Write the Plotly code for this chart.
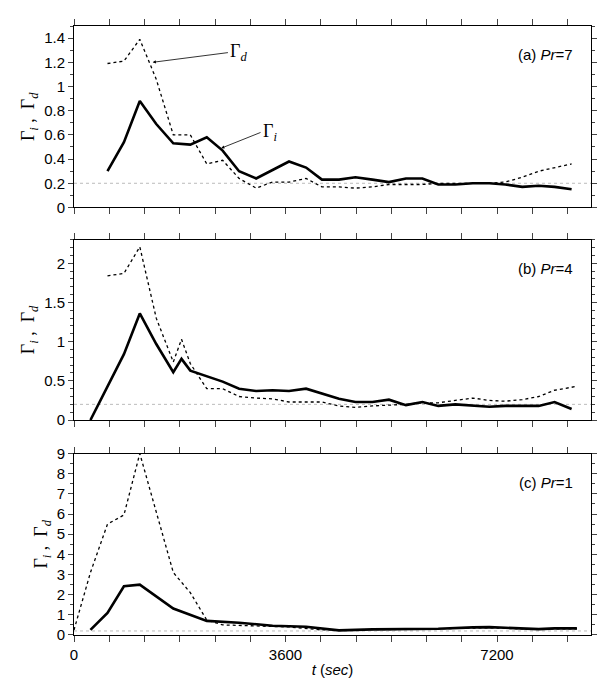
import plotly.graph_objects as go
from plotly.subplots import make_subplots

t_a = [570, 850, 1120, 1400, 1690, 1980, 2260, 2530, 2810, 3100, 3380, 3660, 3950, 4220,
       4510, 4790, 5080, 5360, 5650, 5930, 6200, 6490, 6790, 7070, 7340, 7630, 7910, 8180, 8470]
gi_a = [0.30, 0.54, 0.88, 0.69, 0.53, 0.52, 0.58, 0.47, 0.30, 0.24, 0.31, 0.38, 0.33, 0.23,
        0.23, 0.25, 0.23, 0.21, 0.24, 0.24, 0.19, 0.19, 0.20, 0.20, 0.19, 0.17, 0.18, 0.17, 0.15]
gd_a = [1.19, 1.21, 1.39, 1.06, 0.60, 0.60, 0.36, 0.39, 0.24, 0.16, 0.21, 0.21, 0.24, 0.17,
        0.17, 0.16, 0.17, 0.19, 0.19, 0.19, 0.20, 0.20, 0.20, 0.20, 0.21, 0.25, 0.30, 0.33, 0.36]

t_bi = [280, 570, 850, 1120, 1400, 1690, 1830, 1980, 2260, 2530, 2810, 3100, 3380, 3660, 3950,
        4220, 4510, 4790, 5080, 5360, 5650, 5930, 6200, 6490, 6790, 7070, 7340, 7630, 7910, 8180, 8470]
gi_b = [0.0, 0.43, 0.84, 1.36, 0.97, 0.61, 0.78, 0.63, 0.56, 0.49, 0.40, 0.37, 0.38, 0.37, 0.40,
        0.34, 0.27, 0.23, 0.23, 0.26, 0.19, 0.23, 0.18, 0.20, 0.18, 0.17, 0.18, 0.18, 0.18, 0.23, 0.14]
t_bd = [570, 850, 1120, 1400, 1690, 1830, 1980, 2260, 2530, 2810, 3100, 3380, 3660, 3950,
        4220, 4510, 4790, 5080, 5360, 5650, 5930, 6200, 6490, 6790, 7070, 7340, 7630, 7910, 8180, 8560]
gd_b = [1.84, 1.87, 2.21, 1.30, 0.74, 1.03, 0.72, 0.40, 0.40, 0.30, 0.28, 0.27, 0.23, 0.23,
        0.23, 0.18, 0.16, 0.18, 0.19, 0.20, 0.22, 0.22, 0.25, 0.28, 0.25, 0.24, 0.26, 0.30, 0.38, 0.43]

t_ci = [280, 570, 850, 1120, 1690, 2260, 2810, 3380, 3950, 4510, 5080, 5650, 6200, 6790,
        7070, 7340, 7630, 7910, 8180, 8560]
gi_c = [0.25, 1.1, 2.42, 2.5, 1.31, 0.70, 0.61, 0.46, 0.41, 0.23, 0.28, 0.28, 0.31, 0.38,
        0.39, 0.36, 0.31, 0.29, 0.33, 0.33]
t_cd = [0, 280, 570, 850, 1120, 1400, 1690, 1980, 2260, 2530, 3100, 3660, 4220, 4790, 5360,
        5930, 6490, 7070, 7630, 8180, 8560]
gd_c = [0.25, 3.1, 5.5, 5.95, 9.0, 6.05, 3.1, 2.1, 0.74, 0.50, 0.45, 0.40, 0.25, 0.25, 0.27,
        0.29, 0.33, 0.36, 0.30, 0.31, 0.31]

ref_level = 0.2
x_max = 8800

panels = [
    (t_a, gi_a, t_a, gd_a, "(a) <i>Pr</i>=7", [0, 1.5], 0.2, 0.1),
    (t_bi, gi_b, t_bd, gd_b, "(b) <i>Pr</i>=4", [0, 2.3], 0.5, 0.1),
    (t_ci, gi_c, t_cd, gd_c, "(c) <i>Pr</i>=1", [0, 9], 1, 0.5),
]

fig = make_subplots(rows=3, cols=1)
doms = [[0.702, 1.0], [0.353, 0.649], [0.0, 0.298]]
font = dict(family="Liberation Sans, Arial", size=15, color="black")
gfont = dict(family="Liberation Serif", size=18, color="black")

for k, (ti, gi, td, gd, lab, yr, dt, mdt) in enumerate(panels):
    r = k + 1
    fig.add_trace(go.Scatter(x=[0, x_max], y=[ref_level, ref_level], mode="lines",
                             line=dict(color="#bbbbbb", width=1, dash="dot")), row=r, col=1)
    fig.add_trace(go.Scatter(x=td, y=gd, mode="lines",
                             line=dict(color="black", width=1.3, dash="dot")), row=r, col=1)
    fig.add_trace(go.Scatter(x=ti, y=gi, mode="lines",
                             line=dict(color="black", width=2.6)), row=r, col=1)
    ax = "" if r == 1 else str(r)
    fig.update_yaxes(range=yr, dtick=dt, ticks="outside", ticklen=5, mirror="allticks",
                     showline=True, linecolor="black", showgrid=False, zeroline=False,
                     minor=dict(dtick=mdt, ticks="outside", ticklen=3),
                     domain=doms[k], tickfont=font,
                     title=dict(text="Γ<sub><i>i</i></sub> ,  Γ<sub><i>d</i></sub>",
                                font=gfont, standoff=4),
                     row=r, col=1)
    tv = list(range(0, 8401, 600))
    fig.update_xaxes(range=[0, x_max], tickvals=tv,
                     ticktext=[str(v) if (v % 3600 == 0 and r == 3) else "" for v in tv],
                     ticks="outside", ticklen=6, mirror="allticks", showline=True,
                     linecolor="black", showgrid=False, zeroline=False, tickfont=font,
                     row=r, col=1)
    fig.add_annotation(x=0.97, y=0.9, xref="x" + ax + " domain", yref="y" + ax + " domain",
                       text=lab, showarrow=False, xanchor="right", font=font)

fig.update_xaxes(title=dict(text="<i>t</i> (<i>sec</i>)", font=font, standoff=2), row=3, col=1)

fig.add_annotation(x=1340, y=1.2, ax=2620, ay=1.28, xref="x", yref="y", axref="x", ayref="y",
                   text="Γ<sub><i>d</i></sub>", showarrow=True, arrowhead=2, arrowsize=0.8,
                   arrowwidth=0.8, arrowcolor="black", font=gfont, xanchor="left")
fig.add_annotation(x=2505, y=0.49, ax=3175, ay=0.62, xref="x", yref="y", axref="x", ayref="y",
                   text="Γ<sub><i>i</i></sub>", showarrow=True, arrowhead=2, arrowsize=0.8,
                   arrowwidth=0.8, arrowcolor="black", font=gfont, xanchor="left")

fig.update_layout(width=610, height=680, showlegend=False, plot_bgcolor="white",
                  paper_bgcolor="white", font=dict(color="black"),
                  margin=dict(l=66, r=27, t=9, b=53))
fig.write_html("out.html")
